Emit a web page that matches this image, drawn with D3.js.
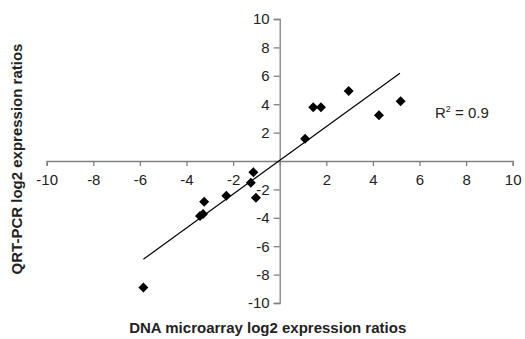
<!DOCTYPE html>
<html>
<head>
<meta charset="utf-8">
<script src="https://cdn.jsdelivr.net/npm/d3@7"></script>
<style>
  body { margin: 0; background: #fff; }
  text { font-family: "Liberation Sans", Arial, sans-serif; }
</style>
</head>
<body>
<div id="chart"></div>
<script>
const width = 525
const height = 339

// microarray vs QRT-PCR log2 ratios
const microarray = [-5.85, -3.42, -3.29, -3.24, -2.29, -1.24, -1.13, -1.02, 1.09, 1.44, 1.77, 2.96, 4.26, 5.19]
const qrtpcr     = [-8.9, -3.87, -3.73, -2.87, -2.44, -1.53, -0.8, -2.58, 1.57, 3.78, 3.78, 4.93, 3.22, 4.2]
const trendX = [-5.85, 5.16]
const trendY = [-6.92, 6.18]
const ticks = [-10, -8, -6, -4, -2, 0, 2, 4, 6, 8, 10]

const svg = d3.select("#chart").append("svg").attr("width", width).attr("height", height)

const x = d3.scaleLinear().domain([-10, 10]).range([46.7, 512.7])
const y = d3.scaleLinear().domain([-10, 10]).range([303, 19])

// plain hyphen for negatives, like the original
const fmt = d => String(d)

// x axis through origin
const xAxis = d3.axisBottom(x).tickValues(ticks).tickSize(5).tickPadding(8).tickFormat(fmt)
const xg = svg.append("g").attr("transform", `translate(0,${y(0)})`).call(xAxis)

// y axis through origin
const yAxis = d3.axisLeft(y).tickValues(ticks).tickSize(6).tickPadding(4).tickFormat(fmt)
const yg = svg.append("g").attr("transform", `translate(${x(0)},0)`).call(yAxis)

for (const g of [xg, yg]) {
    g.select(".domain").attr("stroke", "#808080").attr("stroke-width", 1.3)
    g.selectAll(".tick line").attr("stroke", "#808080").attr("stroke-width", 1.3)
    g.selectAll(".tick text").attr("fill", "#222").attr("font-size", 15)
        .attr("font-family", "Liberation Sans, Arial, sans-serif")
}
// the axes cross at 0, no label there
xg.selectAll(".tick text").filter(d => d === 0).remove()
yg.selectAll(".tick text").filter(d => d === 0).remove()

// trend line
svg.append("line")
    .attr("x1", x(trendX[0])).attr("y1", y(trendY[0]))
    .attr("x2", x(trendX[1])).attr("y2", y(trendY[1]))
    .attr("stroke", "#000").attr("stroke-width", 1.2)

// diamond markers
const diamond = d3.symbol(d3.symbolSquare, 50)
svg.append("g").selectAll("path").data(microarray)
    .join("path")
        .attr("d", diamond)
        .attr("transform", (d, i) => `translate(${x(d)},${y(qrtpcr[i])}) rotate(45)`)
        .attr("fill", "#000")

// R squared label
const r2 = svg.append("text").attr("x", 435).attr("y", 118).attr("font-size", 15).attr("fill", "#222")
r2.append("tspan").text("R")
r2.append("tspan").text("2").attr("font-size", 9).attr("dy", -6)
r2.append("tspan").text(" = 0.9").attr("dy", 6)

// axis titles
svg.append("text")
    .attr("x", x(0) - 12).attr("y", 333)
    .attr("text-anchor", "middle")
    .attr("font-size", 15).attr("font-weight", "bold").attr("fill", "#222")
    .text("DNA microarray log2 expression ratios")

svg.append("text")
    .attr("transform", "translate(22,159) rotate(-90)")
    .attr("text-anchor", "middle")
    .attr("font-size", 15).attr("font-weight", "bold").attr("fill", "#222")
    .text("QRT-PCR log2 expression ratios")
</script>
</body>
</html>
